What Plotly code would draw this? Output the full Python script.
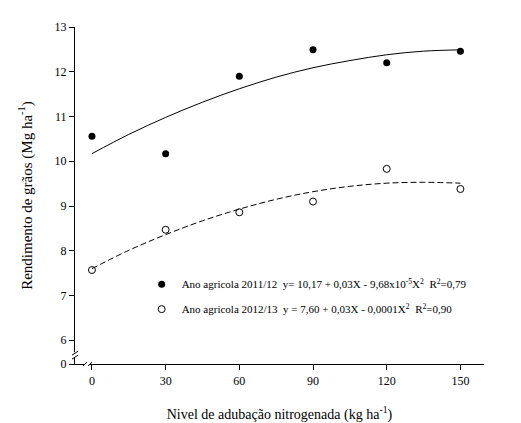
import plotly.graph_objects as go

# ---- data ----
nitrogen = [0, 30, 60, 90, 120, 150]
yield_2011 = [10.56, 10.17, 11.90, 12.49, 12.20, 12.46]
yield_2012 = [7.57, 8.47, 8.86, 9.10, 9.83, 9.38]

# fitted curves
curve_x = [0, 15, 30, 45, 60, 75, 90, 105, 120, 135, 150]
curve_2011 = [10.17, 10.60, 10.98, 11.32, 11.62, 11.88, 12.09, 12.25, 12.38, 12.46, 12.49]
curve_2012 = [7.60, 8.01, 8.36, 8.67, 8.93, 9.15, 9.32, 9.44, 9.51, 9.53, 9.51]

x_ticks = [0, 30, 60, 90, 120, 150]
y_break = 5.47  # axis position standing for "0" (broken axis)
y_tickvals = [y_break, 6, 7, 8, 9, 10, 11, 12, 13]
y_ticktext = ["0", "6", "7", "8", "9", "10", "11", "12", "13"]

label_2011 = ("Ano agricola 2011/12\u00a0\u00a0y= 10,17 + 0,03X - 9,68x10<sup>-5</sup>X<sup>2</sup>"
              "\u00a0\u00a0R<sup>2</sup>=0,79")
label_2012 = ("Ano agricola 2012/13\u00a0\u00a0y = 7,60 + 0,03X - 0,0001X<sup>2</sup>"
              "\u00a0\u00a0R<sup>2</sup>=0,90")

FONT = "'Liberation Serif', 'Times New Roman', Times, serif"

fig = go.Figure()
fig.add_trace(go.Scatter(x=curve_x, y=curve_2011, mode="lines", line=dict(color="black", width=1, shape="spline"),
                         showlegend=False, hoverinfo="skip"))
fig.add_trace(go.Scatter(x=curve_x, y=curve_2012, mode="lines",
                         line=dict(color="black", width=1, dash="6px,3px", shape="spline"),
                         showlegend=False, hoverinfo="skip"))
fig.add_trace(go.Scatter(x=nitrogen, y=yield_2011, mode="markers", name=label_2011, legendgroup="a",
                         marker=dict(symbol="circle", size=7, color="black")))
fig.add_trace(go.Scatter(x=nitrogen, y=yield_2012, mode="markers", name=label_2012, legendgroup="b",
                         marker=dict(symbol="circle-open", size=7, color="black", line=dict(width=1))))

L, R, T, B = 67, 45, 17, 62
W, H = 521, 423

fig.update_layout(
    width=W, height=H,
    margin=dict(l=L, r=R, t=T, b=B),
    paper_bgcolor="white", plot_bgcolor="white",
    font=dict(family=FONT, size=12, color="black"),
    legend=dict(x=0.163, y=0.28, xanchor="left", yanchor="top", bgcolor="rgba(0,0,0,0)",
                font=dict(family=FONT, size=11), tracegroupgap=6, itemwidth=30),
    xaxis=dict(range=[-6.9, 159.6], tickvals=x_ticks, showgrid=False, zeroline=False,
               showline=True, linecolor="black", linewidth=1.3, ticks="outside", ticklen=5,
               tickcolor="black", tickfont=dict(family=FONT, size=12),
               title=dict(text="Nivel de adubação nitrogenada (kg ha<sup>-1</sup>)", standoff=22,
                          font=dict(family=FONT, size=14))),
    yaxis=dict(range=[y_break, 13], tickvals=y_tickvals, ticktext=y_ticktext, showgrid=False,
               zeroline=False, showline=True, linecolor="black", linewidth=1.3, ticks="outside",
               ticklen=5, tickcolor="black", tickfont=dict(family=FONT, size=12),
               title=dict(text="Rendimento de grãos (Mg ha<sup>-1</sup>)", standoff=18,
                          font=dict(family=FONT, size=15))),
)

# axis break marks (decoration, in paper coordinates)
pw = (W - L - R)
ph = (H - T - B)
def px_x(dx):
    return dx / pw
def px_y(dy):
    return dy / ph
# white gaps
fig.add_shape(type="rect", xref="paper", yref="paper", x0=-px_x(3), x1=px_x(3),
              y0=px_y(7), y1=px_y(12), line=dict(width=0), fillcolor="white", layer="above")
fig.add_shape(type="rect", xref="paper", yref="paper", x0=px_x(10), x1=px_x(15),
              y0=-px_y(3), y1=px_y(3), line=dict(width=0), fillcolor="white", layer="above")
for off in (0, 4):
    fig.add_shape(type="line", xref="paper", yref="paper", x0=-px_x(3), x1=px_x(3),
                  y0=px_y(5 + off), y1=px_y(9 + off), line=dict(color="black", width=1), layer="above")
for off in (0, 5):
    fig.add_shape(type="line", xref="paper", yref="paper", x0=px_x(8 + off), x1=px_x(12 + off),
                  y0=-px_y(2), y1=px_y(2), line=dict(color="black", width=1), layer="above")

fig.write_html("out.html")
